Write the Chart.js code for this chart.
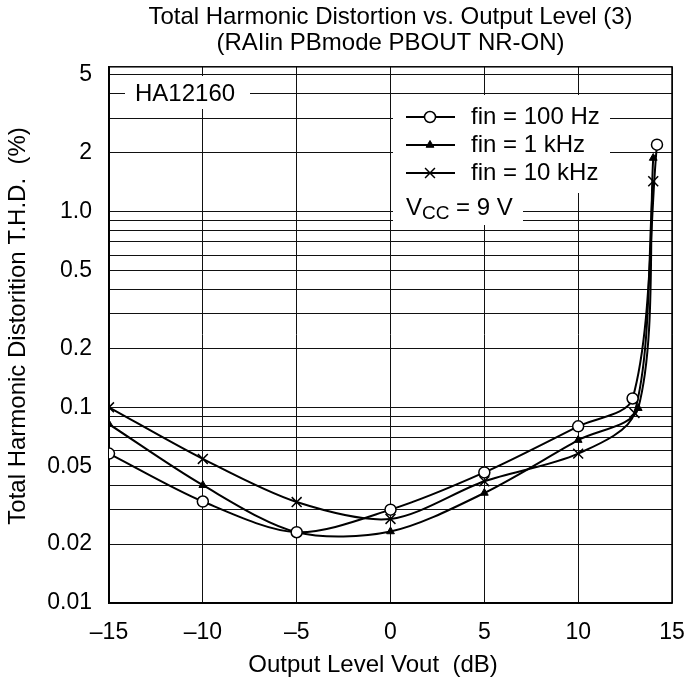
<!DOCTYPE html>
<html>
<head>
<meta charset="utf-8">
<script src="https://cdn.jsdelivr.net/npm/chart.js@4.4.1/dist/chart.umd.min.js"></script>
<style>
  html, body { margin: 0; padding: 0; background: #fff; }
  #wrap { width: 686px; height: 681px; }
</style>
</head>
<body>
<div id="wrap"><canvas id="c" width="686" height="681"></canvas></div>
<script>
// ---- Data ----
const titleLines = ['Total Harmonic Distortion vs. Output Level (3)', '(RAIin PBmode PBOUT NR-ON)'];
const xAxisTitle = 'Output Level Vout  (dB)';
const yAxisTitle = 'Total Harmonic Distorition T.H.D.  (%)';
const xTickValues = [-15, -10, -5, 0, 5, 10, 15];
const yTickLabelValues = [0.01, 0.02, 0.05, 0.1, 0.2, 0.5, 1, 2, 5];
const yGridValues = [0.01, 0.02, 0.03, 0.04, 0.05, 0.06, 0.07, 0.08, 0.09,
                     0.1, 0.2, 0.3, 0.4, 0.5, 0.6, 0.7, 0.8, 0.9,
                     1, 2, 3, 4, 5];
const deviceLabel = 'HA12160';
const seriesNames = ['fin = 100 Hz', 'fin = 1 kHz', 'fin = 10 kHz'];

const x100Hz = [-15, -10, -5, 0, 5, 10, 12.9, 14.2];
const thd100Hz = [0.058, 0.033, 0.023, 0.030, 0.0465, 0.080, 0.111, 2.2];

const x1kHz = [-15, -10, -5, 0, 5, 10, 13.2, 14.0];
const thd1kHz = [0.082, 0.040, 0.023, 0.0232, 0.0365, 0.068, 0.099, 1.88];

const x10kHz = [-15, -10, -5, 0, 5, 10, 13.0, 14.0];
const thd10kHz = [0.100, 0.0545, 0.0328, 0.0269, 0.0419, 0.058, 0.0936, 1.43];

const FONT = "'Liberation Sans', Arial, Helvetica, sans-serif";
const FS = 23;   // tick labels
const FA = 24;   // titles / annotations

function pts(xs, ys) { return xs.map((x, i) => ({ x: x, y: ys[i] })); }

const overlayPlugin = {
  id: 'overlay',
  beforeDatasetsDraw(chart) {
    const ctx = chart.ctx;
    const ca = chart.chartArea;
    ctx.save();
    // white boxes behind annotations
    ctx.fillStyle = '#fff';
    ctx.fillRect(125, 76, 125, 33);   // HA12160
    ctx.fillRect(393, 95, 217, 98);   // legend
    ctx.fillRect(393, 193, 130, 32);  // Vcc
    // frame
    ctx.strokeStyle = '#000';
    ctx.lineWidth = 1.5;
    ctx.strokeRect(ca.left, ca.top, ca.right - ca.left, ca.bottom - ca.top);

    ctx.fillStyle = '#000';
    ctx.font = FA + 'px ' + FONT;
    ctx.textBaseline = 'middle';
    ctx.textAlign = 'left';
    ctx.fillText(deviceLabel, 135, 94);

    // legend rows
    const rows = [117, 145, 173];
    for (let i = 0; i < 3; i++) {
      const y = rows[i];
      ctx.strokeStyle = '#000';
      ctx.lineWidth = 2;
      ctx.beginPath();
      ctx.moveTo(406, y); ctx.lineTo(455, y);
      ctx.stroke();
      const ds = chart.data.datasets[i];
      ctx.save();
      ctx.fillStyle = ds.pointBackgroundColor;
      ctx.strokeStyle = ds.pointBorderColor;
      ctx.lineWidth = ds.pointBorderWidth;
      Chart.helpers.drawPoint(ctx, {
        pointStyle: ds.pointStyle,
        radius: ds.pointRadius,
        borderWidth: ds.pointBorderWidth,
        rotation: 0
      }, 430, y);
      ctx.restore();
      ctx.fillStyle = '#000';
      ctx.font = FA + 'px ' + FONT;
      ctx.fillText(seriesNames[i], 471, y);
    }
    // Vcc = 9 V
    let vx = 406;
    ctx.fillText('V', vx, 208);
    vx += ctx.measureText('V').width;
    ctx.font = Math.round(FA * 0.8) + 'px ' + FONT;
    ctx.fillText('CC', vx, 214);
    vx += ctx.measureText('CC').width;
    ctx.font = FA + 'px ' + FONT;
    ctx.fillText(' = 9 V', vx, 208);
    ctx.restore();
  },
  afterDraw(chart) {
    const ctx = chart.ctx;
    ctx.save();
    ctx.fillStyle = '#000';
    ctx.font = FA + 'px ' + FONT;
    ctx.textAlign = 'center';
    ctx.textBaseline = 'middle';
    ctx.fillText(xAxisTitle, 373, 665);
    ctx.translate(18, 326);
    ctx.rotate(-Math.PI / 2);
    ctx.fillText(yAxisTitle, 0, 0);
    ctx.restore();
  }
};

const common = {
  borderColor: '#000',
  borderWidth: 2,
  tension: 0.3,
  fill: false,
  pointBorderColor: '#000',
  pointHoverRadius: 0
};

const chart = new Chart(document.getElementById('c'), {
  type: 'line',
  data: {
    datasets: [
      Object.assign({}, common, {
        label: seriesNames[0], data: pts(x100Hz, thd100Hz),
        pointStyle: 'circle', pointRadius: 5.5, pointBorderWidth: 1.5,
        pointBackgroundColor: '#fff', order: 0
      }),
      Object.assign({}, common, {
        label: seriesNames[1], data: pts(x1kHz, thd1kHz),
        pointStyle: 'triangle', pointRadius: 4.5, pointBorderWidth: 1,
        pointBackgroundColor: '#000', order: 1
      }),
      Object.assign({}, common, {
        label: seriesNames[2], data: pts(x10kHz, thd10kHz),
        pointStyle: 'crossRot', pointRadius: 7, pointBorderWidth: 1.5,
        pointBackgroundColor: '#000', order: 2
      })
    ]
  },
  options: {
    responsive: false,
    animation: false,
    events: [],
    layout: { padding: { left: 0, right: 14, top: 0, bottom: 0 } },
    plugins: {
      legend: { display: false },
      tooltip: { enabled: false },
      title: {
        display: true,
        fullSize: false,
        text: titleLines,
        color: '#000',
        font: { family: FONT, size: FA, weight: 'normal', lineHeight: 1.1 },
        padding: { top: 4, bottom: 10 }
      }
    },
    scales: {
      x: {
        type: 'linear',
        min: -15, max: 15,
        afterBuildTicks(scale) { scale.ticks = xTickValues.map(v => ({ value: v })); },
        afterFit(scale) { scale.height = 78; scale.paddingLeft = 0; scale.paddingRight = 0; },
        ticks: {
          color: '#000', padding: 16, autoSkip: false, maxRotation: 0,
          font: { family: FONT, size: FS },
          callback: v => (v < 0 ? '\u2013' + Math.abs(v) : String(v))
        },
        grid: { color: '#111', lineWidth: 1, drawTicks: false },
        border: { color: '#000', width: 1.5 },
        title: { display: false, text: xAxisTitle }
      },
      y: {
        type: 'logarithmic',
        min: 0.01, max: 5.5,
        afterBuildTicks(scale) { scale.ticks = yGridValues.map(v => ({ value: v })); },
        afterFit(scale) { scale.width = 109; scale.paddingTop = 0; scale.paddingBottom = 0; },
        ticks: {
          color: '#000', padding: 17, autoSkip: false,
          font: { family: FONT, size: FS },
          callback: function (v) {
            const hit = yTickLabelValues.find(t => Math.abs(t - v) < t * 1e-6);
            if (hit === undefined) return '';
            return hit === 1 ? '1.0' : String(hit);
          }
        },
        grid: { color: '#111', lineWidth: 1, drawTicks: false },
        border: { color: '#000', width: 1.5 },
        title: { display: false, text: yAxisTitle }
      }
    }
  },
  plugins: [overlayPlugin]
});
</script>
</body>
</html>
